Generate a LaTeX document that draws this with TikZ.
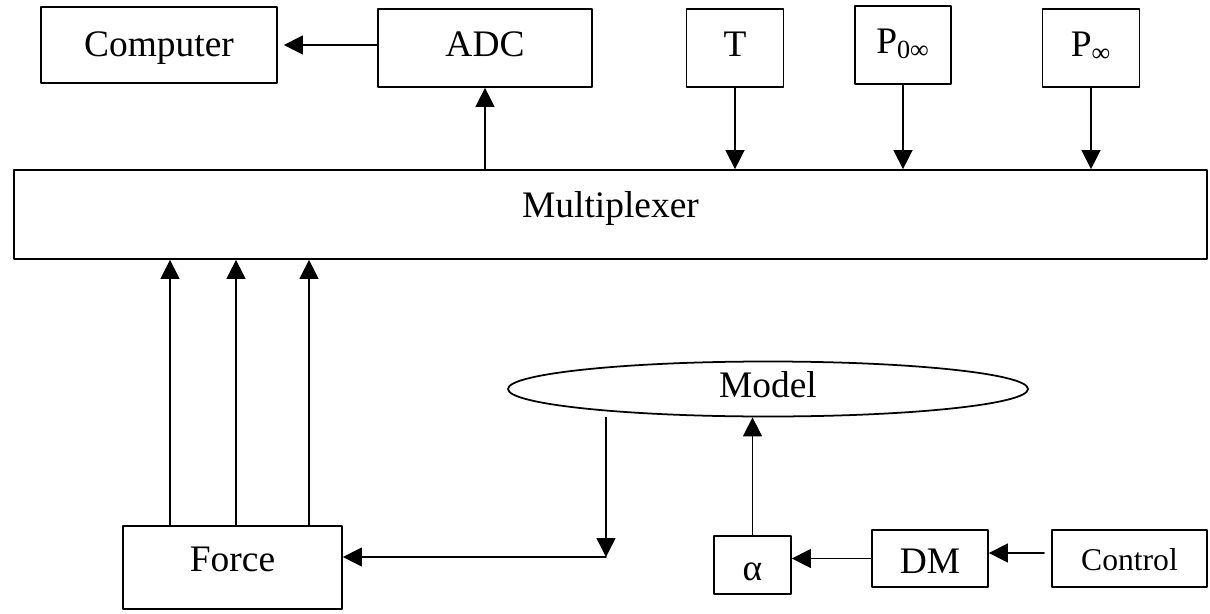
\documentclass[tikz,border=0pt]{standalone}
\usepackage{fontspec}
\setmainfont{Liberation Serif}
\usetikzlibrary{arrows.meta,shapes.geometric}

\begin{document}
\begin{tikzpicture}[line cap=round,line join=round,>={Triangle[length=0.38cm,width=0.38cm]},x=1.0cm,y=1.0cm,
	box/.style={draw,line width=1pt,inner sep=0pt,text height=0.52cm,text depth=0.18cm,font=\fontsize{21.3}{25}\selectfont},
	wire/.style={->,line width=0.8pt}]
	\useasboundingbox (0,0) rectangle (24.2,12.26);
	% top row
	\node[box,minimum width=4.72cm,minimum height=1.52cm,text depth=0.05cm] (comp) at (3.18,11.36) {Computer};
	\node[box,minimum width=4.28cm,minimum height=1.56cm] (adc) at (9.70,11.30) {ADC};
	\node[box,minimum width=1.94cm,minimum height=1.56cm] (tnode) at (14.70,11.30) {T};
	\node[box,minimum width=1.92cm,minimum height=1.56cm] (pzero) at (18.06,11.36) {P\textsubscript{0∞}};
	\node[box,minimum width=1.94cm,minimum height=1.56cm] (pinf) at (21.82,11.30) {P\textsubscript{∞}};
	\node[box,minimum width=23.86cm,minimum height=1.78cm,text depth=0.42cm] (mux) at (12.21,7.97) {Multiplexer};
	% bottom part
	\node[box,ellipse,minimum width=10.4cm,minimum height=1.10cm] (model) at (15.36,4.48) {Model};
	\node[box,minimum width=4.38cm,minimum height=1.66cm,text depth=0.38cm] (force) at (4.65,0.91) {Force};
	\node[box,minimum width=1.54cm,minimum height=1.16cm,text height=0.6cm,text depth=0pt] (alpha) at (15.05,0.96) {α};
	\node[box,minimum width=2.32cm,minimum height=1.14cm,text height=0.58cm,text depth=0pt] (dm) at (18.60,1.09) {DM};
	\node[box,minimum width=3.10cm,minimum height=1.14cm,text height=0.46cm,text depth=0pt,font=\fontsize{18}{21}\selectfont] (ctrl) at (22.59,1.09) {Control};
	\coordinate (corner) at (12.12,1.12);

	\draw[wire] (comp.east -| adc.west) -- ([xshift=0.12cm]comp.east);
	\draw[wire] (mux.north -| adc.south) -- (adc.south);
	\foreach \src in {tnode,pzero,pinf}
	\draw[wire] (\src.south) -- (\src.south |- mux.north);
	\foreach \x in {3.40,4.72,6.18}
	\draw[wire] (\x,0 |- force.north) -- (\x,0 |- mux.south);
	\draw[wire] (corner |- model.south) -- (corner);
	\draw[wire] (corner) -- (corner -| force.east);
	\draw[wire] (alpha.north) -- (alpha.north |- model.south);
	\draw[wire] (dm.west) -- (dm.west -| alpha.east);
	\draw[wire] ([xshift=-0.14cm,yshift=0.11cm]ctrl.west) -- ([yshift=0.11cm]dm.east);
\end{tikzpicture}
\end{document}
